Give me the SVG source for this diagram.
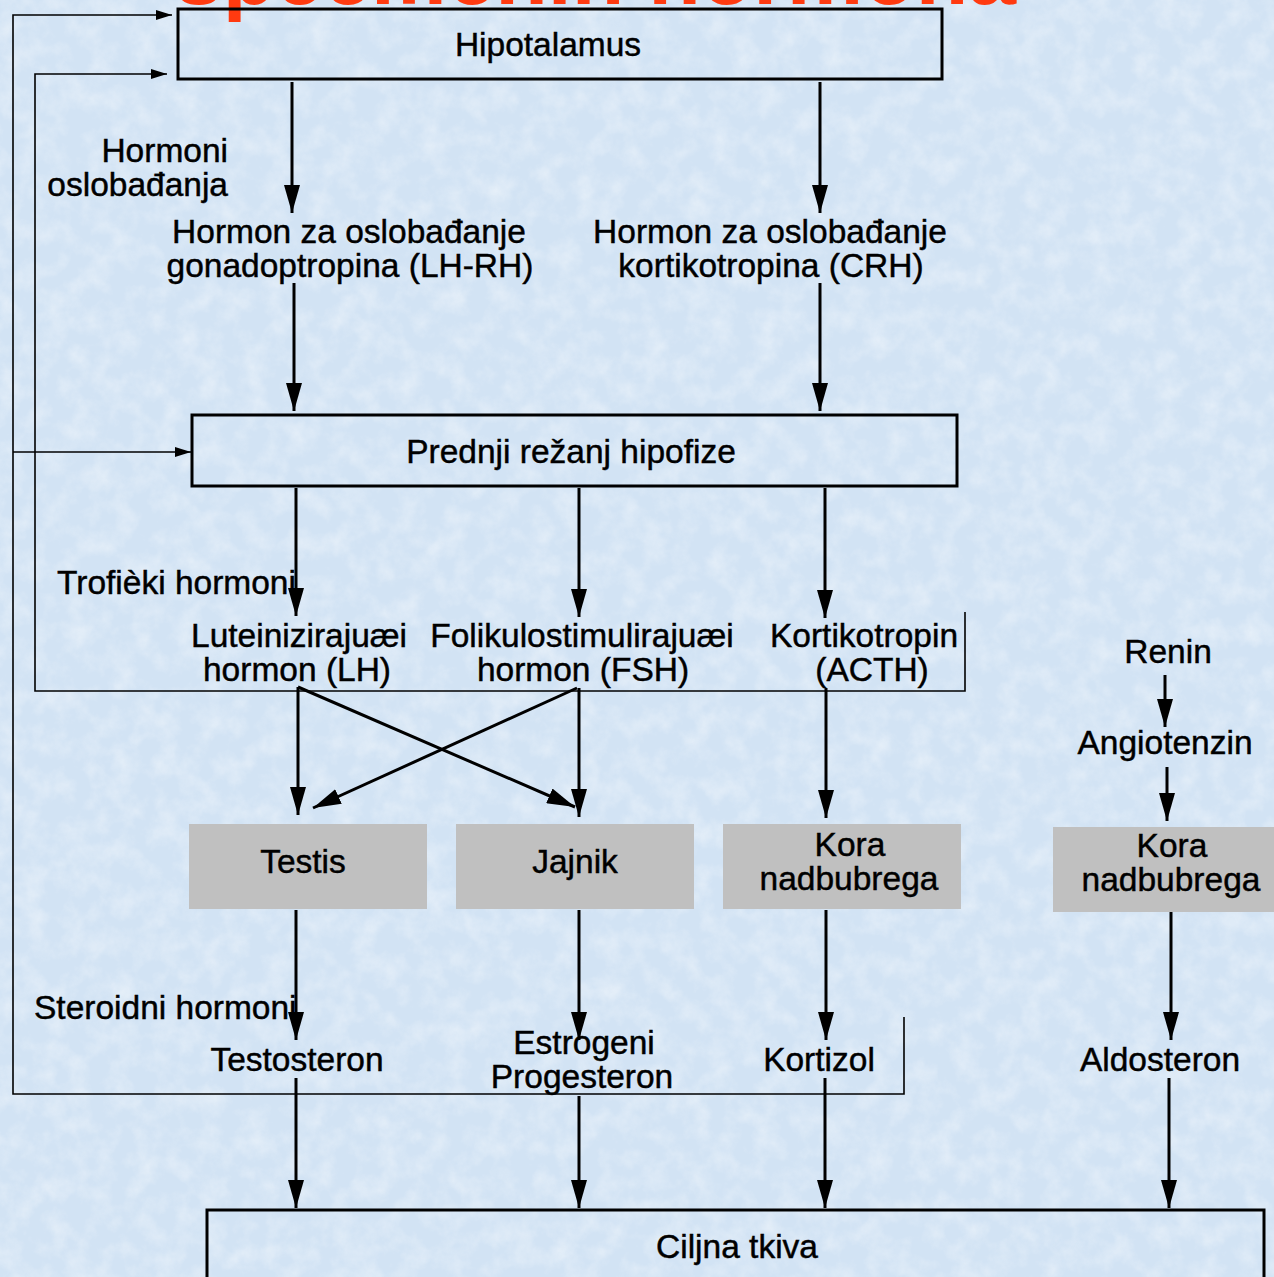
<svg xmlns="http://www.w3.org/2000/svg" width="1274" height="1277" viewBox="0 0 1274 1277">
<defs>
<style>
.t{font-family:"Liberation Sans",Arial,Helvetica,sans-serif;font-size:33.5px;fill:#000;stroke:#000;stroke-width:0.45;text-anchor:middle}
.l{text-anchor:start}
.r{text-anchor:end}
.box{fill:none;stroke:#000;stroke-width:3}
.gray{fill:#c0c0c0;stroke:none}
.a{stroke:#000;stroke-width:3;fill:none;marker-end:url(#ah)}
.fa{stroke:#000;stroke-width:1.6;fill:none;marker-end:url(#fh)}
.title{font-family:"Liberation Sans",Arial,sans-serif;font-size:86px;font-weight:bold;fill:#ff3a10}
</style>
<marker id="ah" markerUnits="userSpaceOnUse" markerWidth="28" markerHeight="16" viewBox="0 0 28 16" refX="28" refY="8" orient="auto">
<path d="M0,0 L28,8 L0,16 z" fill="#000"/>
</marker>
<marker id="fh" markerUnits="userSpaceOnUse" markerWidth="16" markerHeight="10" viewBox="0 0 16 10" refX="16" refY="5" orient="auto">
<path d="M0,0 L16,5 L0,10 z" fill="#000"/>
</marker>
<filter id="tex" x="0" y="0" width="100%" height="100%">
<feTurbulence type="fractalNoise" baseFrequency="0.045" numOctaves="4" seed="3"/>
<feColorMatrix type="matrix" values="0 0 0 0 1  0 0 0 0 1  0 0 0 0 1  0 0 0 1.3 -0.5"/>
</filter>
</defs>
<rect width="1274" height="1277" fill="#d2e3f4"/>
<rect width="1274" height="1277" fill="#fff" filter="url(#tex)" opacity="0.55"/>

<text class="title" x="175" y="4">specifičnih hormona</text>

<g id="connectors">
<line class="a" x1="292" y1="82" x2="292" y2="213"/>
<line class="a" x1="820" y1="82" x2="820" y2="213"/>
<line class="a" x1="294" y1="283" x2="294" y2="411"/>
<line class="a" x1="820" y1="283" x2="820" y2="411"/>
<line class="a" x1="296" y1="488" x2="296" y2="616"/>
<line class="a" x1="579" y1="488" x2="579" y2="617"/>
<line class="a" x1="825" y1="488" x2="825" y2="618"/>
<line class="a" x1="298" y1="687" x2="298" y2="815"/>
<line class="a" x1="298" y1="687" x2="575" y2="807"/>
<line class="a" x1="579" y1="688" x2="579" y2="817"/>
<line class="a" x1="577" y1="688" x2="313" y2="808"/>
<line class="a" x1="826" y1="688" x2="826" y2="818"/>
<line class="a" x1="1165" y1="675" x2="1165" y2="727"/>
<line class="a" x1="1167" y1="767" x2="1167" y2="821"/>
<line class="a" x1="296" y1="910" x2="296" y2="1040"/>
<line class="a" x1="579" y1="910" x2="579" y2="1040"/>
<line class="a" x1="826" y1="910" x2="826" y2="1040"/>
<line class="a" x1="1171" y1="912" x2="1171" y2="1040"/>
<line class="a" x1="296" y1="1078" x2="296" y2="1208"/>
<line class="a" x1="579" y1="1096" x2="579" y2="1208"/>
<line class="a" x1="825" y1="1078" x2="825" y2="1208"/>
<line class="a" x1="1169" y1="1078" x2="1169" y2="1208"/>
<polyline class="fa" points="904,1017 904,1094 13,1094 13,15 172,15"/>
<line class="fa" x1="13" y1="452" x2="191" y2="452"/>
<polyline class="fa" points="965,612 965,691 35,691 35,74 167,74"/>
</g>

<g id="hipotalamus">
<rect class="box" x="178" y="9" width="764" height="70"/>
<text class="t" x="548" y="56">Hipotalamus</text>
</g>
<g id="hormoni-oslobadjanja">
<text class="t r" x="228" y="162">Hormoni</text>
<text class="t r" x="228" y="196">oslobađanja</text>
</g>
<g id="lhrh">
<text class="t" x="349" y="243">Hormon za oslobađanje</text>
<text class="t" x="350" y="277">gonadoptropina (LH-RH)</text>
</g>
<g id="crh">
<text class="t" x="770" y="243">Hormon za oslobađanje</text>
<text class="t" x="771" y="277">kortikotropina (CRH)</text>
</g>
<g id="hipofiza">
<rect class="box" x="192" y="415" width="765" height="71"/>
<text class="t" x="571" y="463">Prednji režanj hipofize</text>
</g>
<g id="troficki">
<text class="t l" x="57" y="594">Trofièki hormoni</text>
</g>
<g id="lh">
<text class="t" x="299" y="647">Luteinizirajuæi</text>
<text class="t" x="297" y="681">hormon (LH)</text>
</g>
<g id="fsh">
<text class="t" x="582" y="647">Folikulostimulirajuæi</text>
<text class="t" x="583" y="681">hormon (FSH)</text>
</g>
<g id="acth">
<text class="t" x="864" y="647">Kortikotropin</text>
<text class="t" x="872" y="681">(ACTH)</text>
</g>
<g id="renin">
<text class="t" x="1168" y="663">Renin</text>
</g>
<g id="angiotenzin">
<text class="t" x="1165" y="754">Angiotenzin</text>
</g>
<g id="testis">
<rect class="gray" x="189" y="824" width="238" height="85"/>
<text class="t" x="303" y="873">Testis</text>
</g>
<g id="jajnik">
<rect class="gray" x="456" y="824" width="238" height="85"/>
<text class="t" x="575" y="873">Jajnik</text>
</g>
<g id="kora1">
<rect class="gray" x="723" y="824" width="238" height="85"/>
<text class="t" x="850" y="856">Kora</text>
<text class="t" x="849" y="890">nadbubrega</text>
</g>
<g id="kora2">
<rect class="gray" x="1053" y="827" width="230" height="85"/>
<text class="t" x="1172" y="857">Kora</text>
<text class="t" x="1171" y="891">nadbubrega</text>
</g>
<g id="steroidni">
<text class="t l" x="34" y="1019">Steroidni hormoni</text>
</g>
<g id="testosteron">
<text class="t" x="297" y="1071">Testosteron</text>
</g>
<g id="estrogeni">
<text class="t" x="584" y="1054">Estrogeni</text>
<text class="t" x="582" y="1088">Progesteron</text>
</g>
<g id="kortizol">
<text class="t" x="819" y="1071">Kortizol</text>
</g>
<g id="aldosteron">
<text class="t" x="1160" y="1071">Aldosteron</text>
</g>
<g id="ciljna">
<rect class="box" x="207" y="1210" width="1057" height="80"/>
<text class="t" x="737" y="1258">Ciljna tkiva</text>
</g>
</svg>
